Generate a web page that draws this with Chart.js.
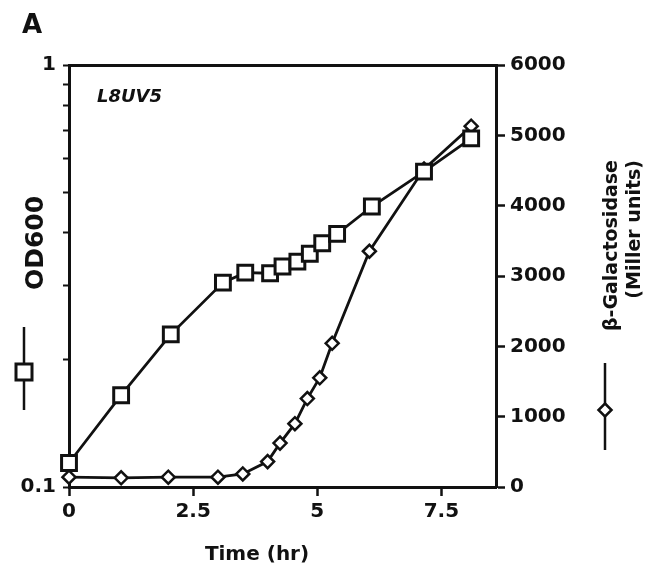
<!DOCTYPE html>
<html>
<head>
<meta charset="utf-8">
<script src="https://cdn.jsdelivr.net/npm/chart.js@4/dist/chart.umd.min.js"></script>
<style>
    body { margin: 0; background: #fff; }
    #wrap { width: 666px; height: 569px; position: relative; }
</style>
</head>
<body>
<div id="wrap"><canvas id="growthChart"></canvas></div>
<script>
// ==================== DATA ====================
// OD600 (squares, left log axis)
const odTime = [0, 1.05, 2.05, 3.1, 3.55, 4.05, 4.3, 4.6, 4.85, 5.1, 5.4, 6.1, 7.15, 8.1];
const odValues = [0.114, 0.165, 0.23, 0.305, 0.322, 0.321, 0.333, 0.342, 0.357, 0.378, 0.398, 0.462, 0.559, 0.67];

// beta-galactosidase (diamonds, right axis)
const galTime = [0, 1.05, 2.0, 3.0, 3.5, 4.0, 4.25, 4.55, 4.8, 5.05, 5.3, 6.05, 7.15, 8.1];
const galValues = [140, 130, 140, 140, 186, 361, 624, 900, 1257, 1553, 2043, 3352, 4520, 5130];

const xTicks = [0, 2.5, 5, 7.5];
const odTicks = [0.1, 0.2, 0.3, 0.4, 0.5, 0.6, 0.7, 0.8, 0.9, 1];
const odTickLabels = ['0.1', '', '', '', '', '', '', '', '', '1'];
const galTicks = [0, 1000, 2000, 3000, 4000, 5000, 6000];

const INK = '#111';
const FONT = '"DejaVu Sans", sans-serif';

function toPoints(xs, ys) {
    return xs.map((x, i) => ({ x: x, y: ys[i] }));
}

// ==================== DECORATION (labels, key symbols) ====================
const annotations = {
    id: 'annotations',
    afterDraw(chart) {
        const ctx = chart.ctx;
        ctx.save();
        ctx.fillStyle = INK;
        ctx.strokeStyle = INK;

        // panel letter
        ctx.font = 'bold 26px ' + FONT;
        ctx.textAlign = 'left';
        ctx.textBaseline = 'alphabetic';
        ctx.fillText('A', 22, 33);

        // strain name
        ctx.font = 'italic bold 18px ' + FONT;
        ctx.fillText('L8UV5', 97, 102);

        // x axis title
        ctx.font = 'bold 20px ' + FONT;
        ctx.textAlign = 'center';
        ctx.fillText('Time (hr)', 257, 560);

        // left axis title
        ctx.save();
        ctx.translate(36, 243);
        ctx.rotate(-Math.PI / 2);
        ctx.font = 'bold 25px ' + FONT;
        ctx.textBaseline = 'middle';
        ctx.fillText('OD600', 0, 0);
        ctx.restore();

        // right axis title, two lines, end aligned
        ctx.save();
        ctx.font = 'bold 19px ' + FONT;
        ctx.textAlign = 'right';
        ctx.textBaseline = 'middle';
        ctx.translate(612, 160);
        ctx.rotate(-Math.PI / 2);
        ctx.fillText('\u03b2-Galactosidase', 0, 0);
        ctx.fillText('(Miller units)', 0, 23);
        ctx.restore();

        // key symbol: square on a line
        ctx.lineWidth = 2.5;
        ctx.beginPath();
        ctx.moveTo(24, 327);
        ctx.lineTo(24, 410);
        ctx.stroke();
        ctx.lineWidth = 3;
        ctx.fillStyle = '#fff';
        ctx.fillRect(16, 364, 16, 16);
        ctx.strokeRect(16, 364, 16, 16);

        // key symbol: diamond on a line
        ctx.lineWidth = 2.5;
        ctx.beginPath();
        ctx.moveTo(605, 363);
        ctx.lineTo(605, 450);
        ctx.stroke();
        ctx.beginPath();
        ctx.moveTo(605, 403.5);
        ctx.lineTo(611.5, 410);
        ctx.lineTo(605, 416.5);
        ctx.lineTo(598.5, 410);
        ctx.closePath();
        ctx.fill();
        ctx.stroke();

        ctx.restore();
    }
};

// ==================== CHART ====================
const tickFont = { family: FONT, size: 20, weight: 'bold' };

new Chart(document.getElementById('growthChart'), {
    type: 'line',
    data: {
        datasets: [{
            label: 'OD600',
            data: toPoints(odTime, odValues),
            xAxisID: 'x',
            yAxisID: 'yL',
            borderColor: INK,
            borderWidth: 2.8,
            pointStyle: 'rect',
            pointRadius: 10.5,
            pointBackgroundColor: '#fff',
            pointBorderColor: INK,
            pointBorderWidth: 3,
            tension: 0,
            clip: false
        }, {
            label: 'beta-Galactosidase',
            data: toPoints(galTime, galValues),
            xAxisID: 'x',
            yAxisID: 'yR',
            borderColor: INK,
            borderWidth: 2.8,
            pointStyle: 'rectRot',
            pointRadius: 6.5,
            pointBackgroundColor: '#fff',
            pointBorderColor: INK,
            pointBorderWidth: 2.5,
            tension: 0,
            clip: false
        }]
    },
    options: {
        responsive: true,
        maintainAspectRatio: false,
        animation: false,
        layout: { padding: { top: 65, left: 0, right: 0, bottom: 0 } },
        plugins: {
            legend: { display: false },
            tooltip: { enabled: false }
        },
        scales: {
            x: {
                type: 'linear',
                position: 'bottom',
                min: 0,
                max: 8.6,
                afterBuildTicks: s => { s.ticks = xTicks.map(v => ({ value: v })); },
                afterFit: s => { s.height = 82; },
                ticks: {
                    font: tickFont,
                    color: INK,
                    padding: 4,
                    maxRotation: 0,
                    autoSkip: false,
                    callback: v => String(v)
                },
                grid: { drawOnChartArea: false, tickLength: 9, tickWidth: 2.5, tickColor: INK },
                border: { color: INK, width: 3 }
            },
            xTop: {
                type: 'linear',
                position: 'top',
                min: 0,
                max: 8.6,
                afterFit: s => { s.height = 0; },
                ticks: { display: false },
                grid: { display: false },
                border: { color: INK, width: 3 }
            },
            yL: {
                type: 'logarithmic',
                position: 'left',
                min: 0.1,
                max: 1,
                afterBuildTicks: s => { s.ticks = odTicks.map(v => ({ value: v })); },
                afterFit: s => { s.width = 69; },
                ticks: {
                    font: tickFont,
                    color: INK,
                    padding: 7,
                    autoSkip: false,
                    callback: (v, i) => odTickLabels[i]
                },
                grid: { drawOnChartArea: false, tickLength: 6, tickWidth: 2, tickColor: INK },
                border: { color: INK, width: 3 }
            },
            yR: {
                type: 'linear',
                position: 'right',
                min: 0,
                max: 6000,
                afterBuildTicks: s => { s.ticks = galTicks.map(v => ({ value: v })); },
                afterFit: s => { s.width = 170; },
                ticks: {
                    font: tickFont,
                    color: INK,
                    padding: 5,
                    autoSkip: false,
                    callback: v => String(v)
                },
                grid: { drawOnChartArea: false, tickLength: 9, tickWidth: 2.5, tickColor: INK },
                border: { color: INK, width: 3 }
            }
        }
    },
    plugins: [annotations]
});
</script>
</body>
</html>
